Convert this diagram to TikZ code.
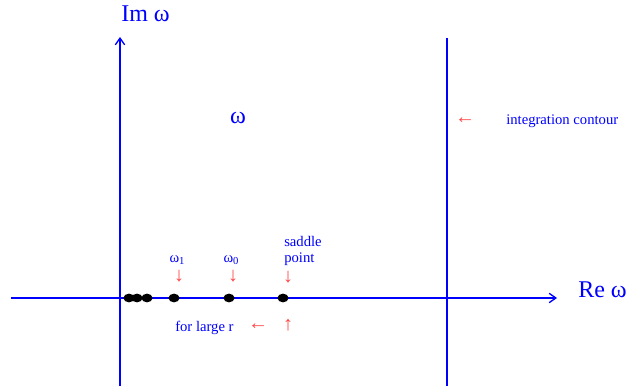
\documentclass[tikz,border=0pt]{standalone}
\usepackage{fontspec}
\setmainfont{Liberation Serif}
\usetikzlibrary{arrows.meta,shapes.geometric}
\definecolor{ablue}{RGB}{0,0,255}
\definecolor{ared}{RGB}{255,70,70}
\begin{document}
\begin{tikzpicture}[x=0.75pt,y=-0.75pt,
  axis/.style={draw=ablue,line width=1.5pt},
  axarrow/.style={-{Straight Barb[length=5pt,width=7pt,line width=1pt]}},
  big/.style={text=ablue,font=\fontsize{18}{20}\selectfont,inner sep=0pt},
  small/.style={text=ablue,font=\fontsize{11}{13}\selectfont,inner sep=0pt},
  rarrow/.style={text=ared,font=\fontsize{15}{16}\selectfont,inner sep=0pt},
  pole/.style={fill=black,ellipse,minimum width=8.3pt,minimum height=6.6pt,inner sep=0pt,draw=none}]
\useasboundingbox (0,0) rectangle (636,388);
% axes
\coordinate (hl) at (11,298);
\coordinate (hr) at (557,298);
\coordinate (vb) at (120,386);
\coordinate (vt) at (120,37);
\coordinate (cb) at (447,386);
\coordinate (ct) at (447,38);
\draw[axis,axarrow] (hl) -- (hr);
\draw[axis,axarrow] (vb) -- (vt);
\draw[axis] (cb) -- (ct);
% labels
\node[big,anchor=west] (im) at (121,14) {Im ω};
\node[big,anchor=west] (re) at (578,290) {Re ω};
\node[big] (om) at (238,118) {ω};
\node[rarrow] (ia) at (465,121) {←};
\node[small,anchor=west] (ic) at (506,121) {integration contour};
% poles
\foreach \n/\x in {p1/129,p2/137,p3/147,p4/174,p5/229,p6/283}
  \node[pole] (\n) at (\x,298) {};
% pole labels
\node[small] (w1) at (177,260) {ω\raisebox{-0.35ex}{\fontsize{8}{9}\selectfont 1}};
\node[rarrow] (a1) at (179,276) {↓};
\node[small] (w0) at (231,260) {ω\raisebox{-0.35ex}{\fontsize{8}{9}\selectfont 0}};
\node[rarrow] (a0) at (233,276) {↓};
\node[small,anchor=west] (sd) at (284,241) {saddle};
\node[small,anchor=west] (pt) at (284,259) {point};
\node[rarrow] (a2) at (288,277) {↓};
\node[small,anchor=west] (fl) at (175,328) {for large r};
\node[rarrow] (la) at (258,327) {←};
\node[rarrow] (ua) at (288,325) {↑};
\end{tikzpicture}
\end{document}
